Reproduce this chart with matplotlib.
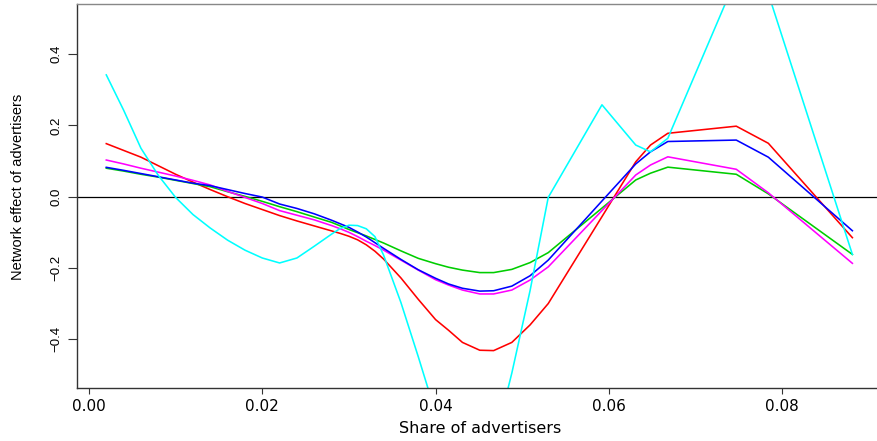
import numpy as np
import matplotlib
matplotlib.use('Agg')
import matplotlib.pyplot as plt

# share of advertisers (sorted design points)
share = [0.0020, 0.0040, 0.0060, 0.0080, 0.0100, 0.0120, 0.0140, 0.0160, 0.0180, 0.0200,
         0.0220, 0.0240, 0.0260, 0.0280, 0.0290, 0.0300, 0.0310, 0.0320, 0.0330, 0.0340,
         0.0360, 0.0380, 0.0400, 0.0415, 0.0431, 0.0451, 0.0467, 0.0488, 0.0509, 0.0530,
         0.0592, 0.0631, 0.0648, 0.0668, 0.0747, 0.0784, 0.0881]

# estimated network effects, one curve per specification
eff_red = [0.149, 0.130, 0.111, 0.087, 0.063, 0.041, 0.020, 0.000, -0.019, -0.036,
           -0.053, -0.068, -0.082, -0.096, -0.103, -0.111, -0.121, -0.135, -0.153, -0.175,
           -0.228, -0.288, -0.345, -0.375, -0.409, -0.431, -0.432, -0.409, -0.360, -0.300,
           -0.056, 0.098, 0.145, 0.178, 0.198, 0.150, -0.115]
eff_green = [0.080, 0.072, 0.063, 0.055, 0.046, 0.037, 0.028, 0.014, 0.001, -0.013,
             -0.028, -0.042, -0.057, -0.072, -0.082, -0.092, -0.101, -0.110, -0.120, -0.130,
             -0.152, -0.173, -0.188, -0.198, -0.206, -0.213, -0.213, -0.204, -0.185, -0.157,
             -0.032, 0.047, 0.066, 0.083, 0.063, 0.008, -0.162]
eff_magenta = [0.103, 0.092, 0.080, 0.069, 0.058, 0.046, 0.033, 0.015, -0.002, -0.019,
               -0.039, -0.052, -0.065, -0.081, -0.090, -0.100, -0.112, -0.125, -0.137, -0.150,
               -0.178, -0.206, -0.233, -0.248, -0.262, -0.273, -0.273, -0.262, -0.234, -0.197,
               -0.039, 0.061, 0.089, 0.112, 0.077, 0.011, -0.187]
eff_blue = [0.0825, 0.074, 0.065, 0.056, 0.047, 0.038, 0.031, 0.020, 0.009, -0.001,
            -0.0205, -0.033, -0.048, -0.066, -0.076, -0.086, -0.099, -0.113, -0.129, -0.145,
            -0.176, -0.205, -0.229, -0.245, -0.257, -0.265, -0.264, -0.251, -0.222, -0.178,
            -0.012, 0.092, 0.126, 0.155, 0.159, 0.111, -0.0955]
eff_cyan = [0.342, 0.243, 0.136, 0.060, -0.002, -0.050, -0.088, -0.122, -0.150, -0.172,
            -0.186, -0.172, -0.139, -0.105, -0.089, -0.080, -0.081, -0.090, -0.112, -0.164,
            -0.297, -0.449, -0.607, -0.68, -0.75, -0.78, -0.70, -0.495, -0.264, -0.002,
            0.258, 0.145, 0.126, 0.164, 0.614, 0.570, -0.162]

xticks = [0.00, 0.02, 0.04, 0.06, 0.08]
xticklabels = ['0.00', '0.02', '0.04', '0.06', '0.08']
yticks = [-0.4, -0.2, 0.0, 0.2, 0.4]
yticklabels = ['\u22120.4', '\u22120.2', '0.0', '0.2', '0.4']

plt.rcParams['font.family'] = ['Liberation Sans', 'DejaVu Sans']

fig = plt.figure(figsize=(8.77, 4.41), dpi=100)
ax = fig.add_axes([77 / 877, 53 / 441, 800 / 877, 384 / 441])

ax.axhline(0, color='black', lw=0.9, zorder=1)
ax.plot(share, eff_red, color='#FF0000', lw=1.15)
ax.plot(share, eff_green, color='#00CD00', lw=1.15)
ax.plot(share, eff_magenta, color='#FF00FF', lw=1.15)
ax.plot(share, eff_blue, color='#0000FF', lw=1.15)
ax.plot(share, eff_cyan, color='#00FFFF', lw=1.15)

ax.set_xlim(-0.00138, 0.09094)
ax.set_ylim(-0.537, 0.541)

ax.set_xticks(xticks)
ax.set_xticklabels(xticklabels, family=['DejaVu Sans'], fontsize=11)
ax.set_yticks(yticks)
ax.set_yticklabels(yticklabels, rotation=90, va='center', fontsize=9.5)
ax.tick_params(axis='x', length=4, width=0.8, pad=4, color='#333333')
ax.tick_params(axis='y', length=6.5, width=0.8, pad=4, color='#333333')

ax.set_xlabel('Share of advertisers', family=['DejaVu Sans'], fontsize=11.5)
ax.set_ylabel('Network effect of advertisers', fontsize=10.5)
ax.xaxis.set_label_coords(0.504, -0.085)
ax.yaxis.set_label_coords(-0.065, 0.525)

ax.spines['right'].set_visible(False)
ax.spines['top'].set_color('#888888')
ax.spines['left'].set_color('#333333')
ax.spines['bottom'].set_color('#333333')
for s in ['top', 'left', 'bottom']:
    ax.spines[s].set_linewidth(1.0)

fig.savefig('out.png', dpi=100)
